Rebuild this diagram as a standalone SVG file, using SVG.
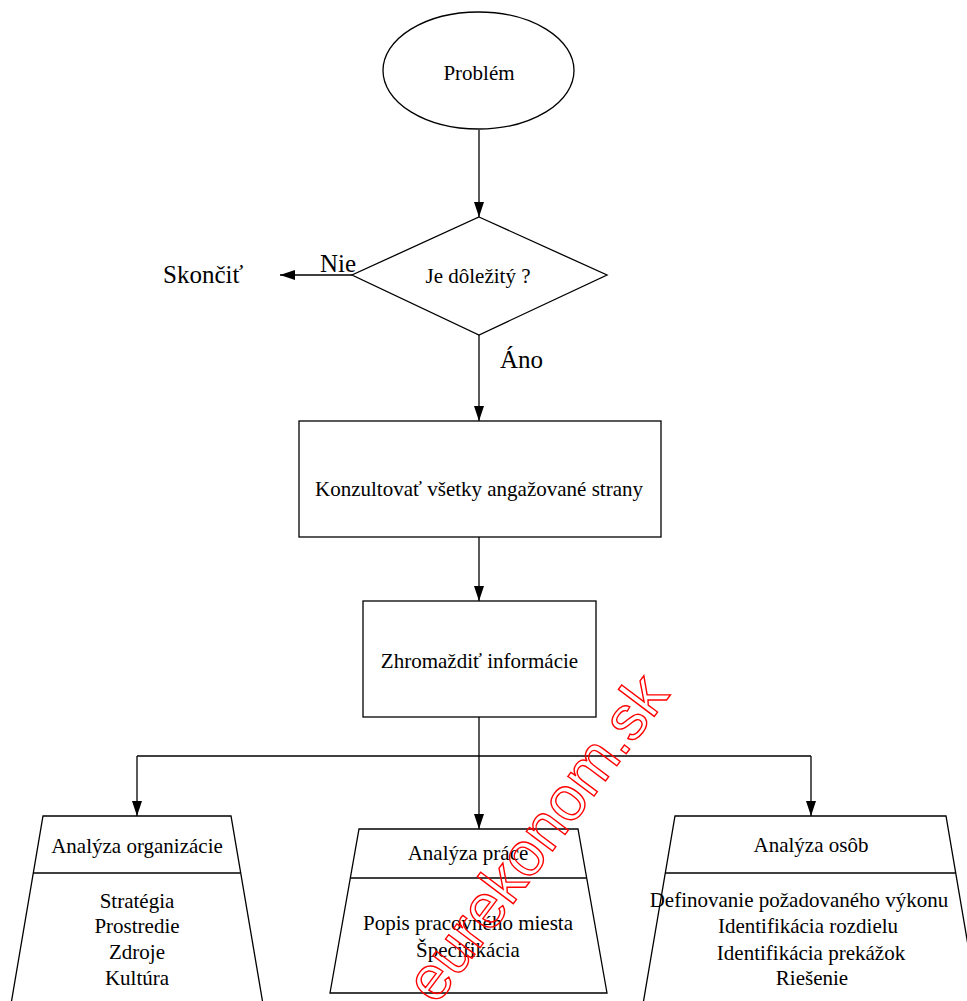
<svg xmlns="http://www.w3.org/2000/svg" width="967" height="1001" viewBox="0 0 967 1001">
<style>
.s{fill:none;stroke:#000;stroke-width:1.3}
.n{fill:#fff;stroke:#000;stroke-width:1.3}
.t{font-family:'Liberation Serif','Times New Roman',serif;font-size:21px;fill:#000;text-anchor:middle}
.b{font-family:'Liberation Serif','Times New Roman',serif;font-size:25px;fill:#000}
.c{stroke:#000;stroke-width:1.3;fill:none;marker-end:url(#ah)}
.wm{font-family:'Liberation Sans',Arial,sans-serif;font-size:62px;fill:none;stroke:#f00;stroke-width:1.4}
</style>
<defs>
<marker id="ah" markerUnits="userSpaceOnUse" markerWidth="16" markerHeight="12" refX="15" refY="5" orient="auto">
<path d="M0,0 L15,5 L0,10 Z" fill="#000"/>
</marker>
</defs>
<rect width="967" height="1001" fill="#fff"/>
<g id="connectors">
<line class="c" x1="479" y1="130" x2="479" y2="217"/>
<line class="c" x1="352" y1="275" x2="280" y2="275"/>
<line class="c" x1="479" y1="335" x2="479" y2="421"/>
<line class="c" x1="479" y1="537" x2="479" y2="601"/>
<line class="c" x1="479" y1="717" x2="479" y2="829"/>
<line class="s" x1="137" y1="756" x2="811" y2="756"/>
<line class="c" x1="137" y1="756" x2="137" y2="816"/>
<line class="c" x1="811" y1="756" x2="811" y2="816"/>
</g>
<g id="problem">
<ellipse class="n" cx="478.5" cy="70.5" rx="95.5" ry="58.5"/>
<text class="t" x="479" y="80">Problém</text>
</g>
<g id="decision">
<polygon class="n" points="479,217 607,275 479,335 352,275"/>
<text class="t" x="478" y="283">Je dôležitý ?</text>
</g>
<g id="label-nie"><text class="b" x="320" y="272">Nie</text></g>
<g id="label-ano"><text class="b" x="500" y="368">Áno</text></g>
<g id="end"><text class="b" x="163" y="283">Skončiť</text></g>
<g id="consult">
<rect class="n" x="299" y="421" width="362" height="116"/>
<text class="t" x="479" y="496">Konzultovať všetky angažované strany</text>
</g>
<g id="gather">
<rect class="n" x="363" y="601" width="233" height="116"/>
<text class="t" x="479.5" y="668">Zhromaždiť informácie</text>
</g>
<g id="org">
<polygon class="n" points="43,816 231,816 264,1010 10,1010"/>
<line class="s" x1="33.4" y1="873" x2="240.6" y2="873"/>
<text class="t" x="137" y="853">Analýza organizácie</text>
<text class="t" x="137" y="908">Stratégia</text>
<text class="t" x="137" y="933">Prostredie</text>
<text class="t" x="137" y="959">Zdroje</text>
<text class="t" x="137" y="985">Kultúra</text>
</g>
<g id="job">
<polygon class="n" points="359,829 578,829 607,993 330,993"/>
<line class="s" x1="350.2" y1="878" x2="586.8" y2="878"/>
<text class="t" x="468" y="860">Analýza práce</text>
<text class="t" x="468" y="930">Popis pracovného miesta</text>
<text class="t" x="468" y="957">Špecifikácia</text>
</g>
<g id="person">
<polygon class="n" points="675,816 946,816 979,1010 642,1010"/>
<line class="s" x1="665.3" y1="873" x2="955.7" y2="873"/>
<text class="t" x="811" y="852">Analýza osôb</text>
<text class="t" x="799" y="907">Definovanie požadovaného výkonu</text>
<text class="t" x="808" y="933">Identifikácia rozdielu</text>
<text class="t" x="811" y="960">Identifikácia prekážok</text>
<text class="t" x="812" y="985">Riešenie</text>
</g>
<text class="wm" transform="translate(436,1006) rotate(-53)">eurekonom.sk</text>
</svg>
